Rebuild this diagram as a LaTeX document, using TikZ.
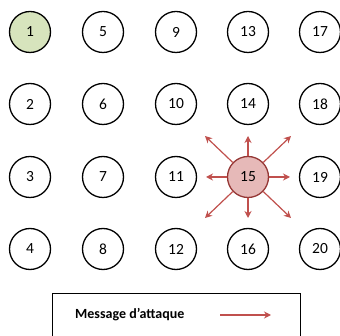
\documentclass[tikz,border=0pt]{standalone}
\usepackage{fontspec}
\setmainfont{Carlito}
\usetikzlibrary{arrows.meta}
\definecolor{attackfill}{HTML}{E6B9B8}
\definecolor{attackline}{HTML}{953735}
\definecolor{attackarrow}{HTML}{C0504D}
\definecolor{sourcefill}{HTML}{D7E4BD}
\tikzset{
  peer/.style={circle, draw=black, line width=1.3pt, minimum size=41pt, inner sep=0pt, font=\fontsize{15.5}{17}\selectfont},
  attacker/.style={peer, fill=attackfill, draw=attackline},
  origin/.style={peer, fill=sourcefill},
  attackmsg/.style={draw=attackarrow, line width=1.2pt, -{Stealth[length=7pt,width=7pt]}},
}
\begin{document}
\begin{tikzpicture}[x=1pt,y=-1pt]
\useasboundingbox (0,0) rectangle (340,336);
% grid of peers, numbered column by column
\foreach \c [count=\ci from 0] in {30,103,176,248,320} {
  \foreach \r [count=\ri from 1] in {32,104,177,249} {
    \pgfmathtruncatemacro{\n}{\ci*4+\ri}
    \ifnum\n=1
      \node[origin] (p\n) at (\c,\r) {\n};
    \else\ifnum\n=15
      \node[attacker] (p\n) at (\c,\r) {\n};
    \else
      \node[peer] (p\n) at (\c,\r) {\n};
    \fi\fi
  }
}
% attack messages sent from peer 15
\coordinate (aN) at (248,136);
\coordinate (aS) at (248,218);
\coordinate (aE) at (290,177);
\coordinate (aW) at (206,177);
\coordinate (aNE) at (291,136);
\coordinate (aNW) at (205,136);
\coordinate (aSE) at (291,218);
\coordinate (aSW) at (205,218);
\foreach \t in {aN,aS,aE,aW,aNE,aNW,aSE,aSW}
  \draw[attackmsg] (p15) -- (\t);
% legend
\begin{scope}
\clip (0,0) rectangle (340,336);
\node[draw=black, line width=1.3pt, minimum width=248pt, minimum height=50pt, anchor=north west] (legend) at (52,293) {};
\end{scope}
\node[font=\bfseries\fontsize{14}{16}\selectfont, anchor=west, inner sep=0pt] (legtext) at (75,315) {Message d’attaque};
\coordinate (la) at (220,315);
\coordinate (lb) at (271,315);
\draw[attackmsg] (la) -- (lb);
\end{tikzpicture}
\end{document}
